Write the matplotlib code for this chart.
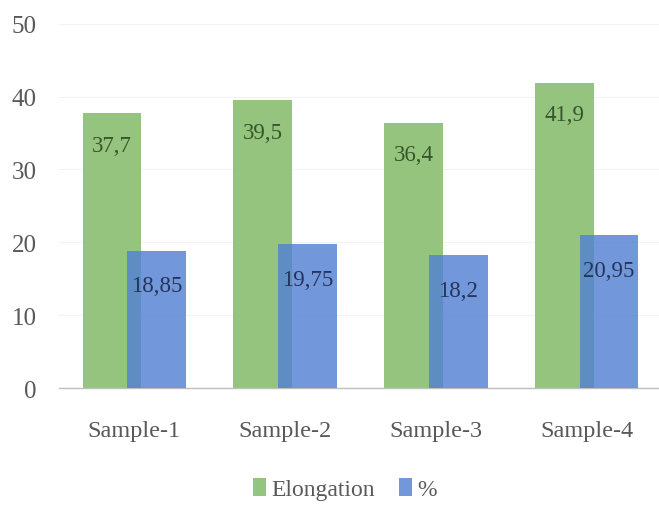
import matplotlib
matplotlib.use("Agg")
import matplotlib.pyplot as plt
import numpy as np
from matplotlib.patches import Patch

categories = ["Sample-1", "Sample-2", "Sample-3", "Sample-4"]
elongation = [37.7, 39.5, 36.4, 41.9]
percent = [18.85, 19.75, 18.2, 20.95]
elong_labels = ["37,7", "39,5", "36,4", "41,9"]
percent_labels = ["18,85", "19,75", "18,2", "20,95"]
series_names = ["Elongation", "%"]

green = "#94C47D"
blue = "#5381D4"

plt.rcParams["font.family"] = ["Liberation Serif", "DejaVu Serif"]

fig = plt.figure(figsize=(6.59, 5.06), dpi=100)
ax = fig.add_axes([59 / 659, 0.2312, 0.915, 0.7198])

x = np.arange(len(categories))
width = 0.39
offset = 0.149

ax.bar(x - offset, elongation, width, color=green, zorder=2)
ax.bar(x + offset, percent, width, color=blue, alpha=0.82, zorder=3)

for xi, v, s in zip(x, elongation, elong_labels):
    ax.annotate(s, (xi - offset, v), xytext=(0, -32), textcoords="offset pixels",
                ha="center", va="center", fontsize=16.5, color="#37552A", zorder=4)
for xi, v, s in zip(x, percent, percent_labels):
    ax.annotate(s, (xi + offset, v), xytext=(0, -35), textcoords="offset pixels",
                ha="center", va="center", fontsize=16.5, color="#25345A", zorder=4)

ax.set_xlim(-0.5, len(categories) - 0.5)
ax.set_ylim(0, 50)
ax.set_yticks(np.arange(0, 51, 10))
ax.set_xticks(x)
ax.set_xticklabels(categories)

ax.grid(axis="y", color="#F3F3F3", linewidth=0.8, zorder=0)
ax.set_axisbelow(True)
for side in ["top", "right", "left"]:
    ax.spines[side].set_visible(False)
ax.spines["bottom"].set_color("#BFBFBF")
ax.spines["bottom"].set_linewidth(1.0)
ax.tick_params(axis="x", length=0, labelsize=17.5, labelcolor="#595959", pad=23)
ax.tick_params(axis="y", length=0, labelsize=18, labelcolor="#595959", pad=16)

handles = [Patch(facecolor=green), Patch(facecolor=blue, alpha=0.82)]
fig.legend(handles, series_names, loc="center", bbox_to_anchor=(345 / 659, 16 / 506),
           ncol=2, frameon=False, fontsize=17, handlelength=0.55, handleheight=0.8,
           handletextpad=0.25, columnspacing=1.0, labelcolor="#595959")

fig.savefig("out.png", dpi=100)
